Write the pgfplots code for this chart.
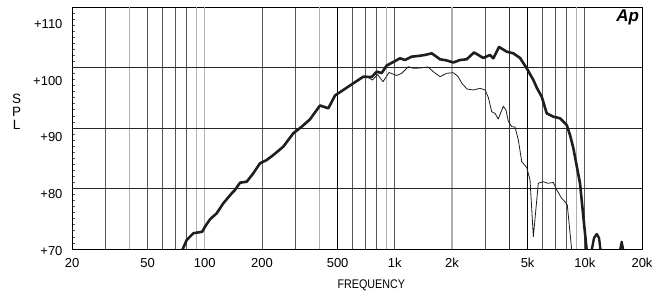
\documentclass[border=0pt]{standalone}
\usepackage{pgfplots}
\pgfplotsset{compat=1.18}
\usepackage{fontspec}
\setmainfont{Liberation Sans}
\newfontfamily\narrowfont{Liberation Sans}[FakeStretch=0.86]
\definecolor{gridd}{HTML}{555555}
\definecolor{gridl}{HTML}{B0B0B0}
\definecolor{curve}{HTML}{1E1E1E}
\begin{document}
\begin{tikzpicture}
\path[use as bounding box] (0,0) rectangle (656pt,291pt);
\begin{axis}[
  at={(72pt,42pt)}, anchor=south west,
  scale only axis, width=570pt, height=242pt,
  xmode=log, xmin=20, xmax=20000, ymin=70, ymax=112.64,
  axis line style={black, line width=0.9pt},
  tick label style={font=\fontsize{13}{15}\selectfont},
  xtick={20,50,100,200,500,1000,2000,5000,10000,20000},
  xticklabels={20,50,100,200,500,1k,2k,5k,10k,20k},
  minor xtick={30,50,60,70,80,200,300,600,700,800,1000,3000,4000,6000,7000,8000,10000},
  xminorgrids=true,
  minor x grid style={gridd, line width=0.8pt},
  extra x ticks={40,90,100,400,900,2000,9000},
  extra x tick labels={},
  extra x tick style={grid=major, major grid style={gridl, line width=1.1pt}, major tick length=0pt},
  ytick={70,80,90,100,110},
  yticklabels={+70,+80,+90,+100,+110},
  extra y ticks={80.66,91.32,101.98},
  extra y tick labels={},
  extra y tick style={grid=major, major grid style={black!85, line width=0.9pt}, major tick length=0pt},
  minor ytick={71.066,72.132,...,111.6},
  minor tick length=3pt,
  major tick length=0pt,
  tick align=inside,
  xtick pos=bottom, ytick pos=left,
  minor tick style={gridd, line width=0.7pt},
  yticklabel style={xshift=-6pt, yshift=-2pt},
  xticklabel style={yshift=-6pt},
  clip mode=individual,
]
\draw[black, line width=1.2pt] (axis cs:500,70) -- (axis cs:500,112.64);
\draw[black, line width=1.2pt] (axis cs:5000,70) -- (axis cs:5000,112.64);
\draw[black!80, line width=1pt] (axis cs:4000,70) -- (axis cs:4000,112.64);

% thin curve
\addplot[curve, line width=0.8pt, line join=round] coordinates {
(535.8,98.02) (604.8,99.20) (682.8,100.36) (711.5,100.36) (763.3,99.78) (810.8,100.75)
(866.8,99.48) (932.2,101.10) (1023,100.57) (1087,100.96) (1178,102.12) (1251,101.84)
(1357,101.89) (1495,102.07) (1594,101.24) (1730,100.36) (1876,100.96) (2031,101.07)
(2151,100.40) (2258,99.16) (2400,98.19) (2590,98.02) (2808,98.32) (2984,98.02)
(3106,96.70) (3236,94.19) (3368,93.88) (3506,92.91) (3724,95.15) (3848,94.49)
(3957,92.47) (4124,91.55) (4292,91.50) (4468,89.21) (4656,85.38) (4946,84.36)
(5148,82.16) (5359,72.17) (5692,81.58) (6046,81.86) (6402,81.58) (6830,81.72)
(7117,80.40) (7558,78.93) (7866,78.33) (8088,77.75) (8531,69.8)
};

% thick curve
\addplot[curve, line width=2.6pt, line join=round, line cap=round] coordinates {
(76.1,69.8) (80.3,71.59) (87.0,72.77) (97.0,73.05) (100.2,73.93) (106.5,75.23)
(115.5,76.29) (125.1,78.05) (138.5,79.81) (144.2,80.40) (153.2,81.68) (166.2,81.86)
(180.0,83.34) (195.2,85.10) (211.7,85.68) (229.4,86.56) (258.9,88.03) (292.2,90.39)
(323.6,91.55) (357.8,92.85) (404.0,95.29) (446.8,94.79) (484.5,97.05) (535.8,98.02)
(604.8,99.20) (682.8,100.36) (756.1,100.31) (803.0,101.24) (853.2,101.01) (906.5,102.33)
(982.2,102.95) (1065,103.60) (1131,103.30) (1227,103.89) (1329,104.01) (1442,104.19)
(1564,104.48) (1730,103.43) (1876,103.22) (2031,102.86) (2204,103.30) (2390,103.43)
(2612,104.63) (2922,103.66) (3170,104.19) (3300,103.60) (3537,105.59) (3882,104.77)
(4204,104.48) (4560,103.66) (4946,101.84) (5359,99.78) (5604,98.32) (5933,96.84)
(6302,93.91) (6830,93.31) (7404,93.03) (8030,91.85) (8358,90.09) (8698,87.80)
(9434,81.58) (10230,69.8)
};
\addplot[curve, line width=2.4pt, line join=round] coordinates {
(10870,69.8) (11180,71.94) (11550,72.64) (11880,71.94) (12100,69.8)
};
\addplot[curve, line width=2.2pt, line join=round] coordinates {
(15320,69.8) (15640,71.29) (15950,69.8)
};

\node[anchor=center, font=\narrowfont\fontsize{12.5}{13}\selectfont] at (axis description cs:0.525,-0.15) {FREQUENCY};
\node[anchor=center, align=center, font=\fontsize{13.5}{13}\selectfont] at (axis description cs:-0.097,0.565) {S\\P\\L};
\node[anchor=north east, inner sep=0pt, font=\fontsize{17}{17}\selectfont\bfseries\itshape] at (axis description cs:0.995,0.99) {Ap};
\end{axis}
\end{tikzpicture}
\end{document}
